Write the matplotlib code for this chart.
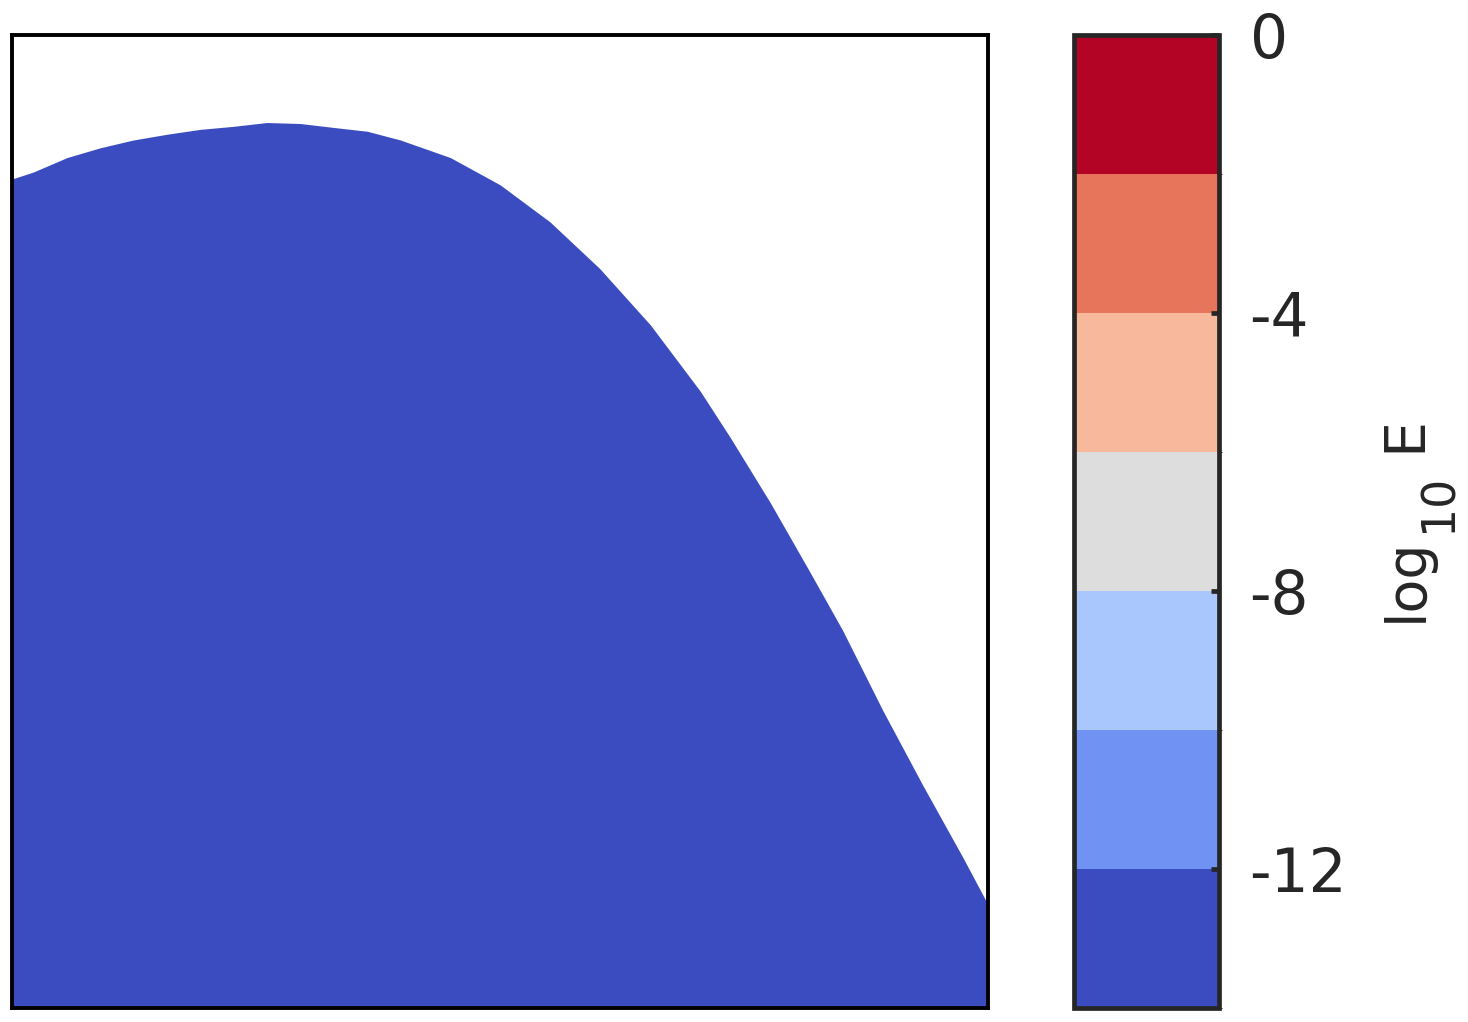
import numpy as np
import matplotlib
matplotlib.use("Agg")
import matplotlib.pyplot as plt
from matplotlib.colors import BoundaryNorm
from matplotlib.cm import ScalarMappable

# --- Data ---
# upper edge of the computed region, in normalised axis units
EDGE_X = [0.000, 0.0215, 0.0564, 0.0902, 0.124, 0.159, 0.193, 0.226, 0.261,
          0.295, 0.329, 0.364, 0.398, 0.449, 0.500, 0.551, 0.602, 0.654,
          0.705, 0.736, 0.777, 0.818, 0.851, 0.892, 0.933, 0.974, 1.000]
EDGE_Y = [0.852, 0.859, 0.874, 0.884, 0.892, 0.898, 0.903, 0.906, 0.910,
          0.909, 0.905, 0.901, 0.892, 0.874, 0.846, 0.808, 0.760, 0.702,
          0.634, 0.586, 0.519, 0.447, 0.388, 0.306, 0.229, 0.155, 0.106]
# log10 E inside the region (all in the lowest colour band)
FIELD_LEVEL = -13.0

LEVELS = [-14, -12, -10, -8, -6, -4, -2, 0]
CBAR_TICKS = [-12, -8, -4, 0]
LABEL_PARTS = ["log", "10", "E"]

TEXT_COLOR = "#262626"

# --- Figure ---
fig = plt.figure(figsize=(14.68, 10.22), dpi=100)
ax = fig.add_axes([0.0082, 0.0137, 0.6649, 0.9521])
cax = fig.add_axes([0.7316, 0.0137, 0.0988, 0.9521])

cmap = plt.get_cmap("coolwarm", len(LEVELS) - 1)
norm = BoundaryNorm(LEVELS, cmap.N)

ax.fill_between(EDGE_X, 0, EDGE_Y, color=cmap(norm(FIELD_LEVEL)),
                linewidth=0, zorder=1)
ax.set_xlim(0, 1)
ax.set_ylim(0, 1)
ax.set_xticks([])
ax.set_yticks([])
for sp in ax.spines.values():
    sp.set_color("black")
    sp.set_linewidth(2.8)
    sp.set_zorder(3)

# colorbar
sm = ScalarMappable(norm=norm, cmap=cmap)
cb = fig.colorbar(sm, cax=cax, ticks=CBAR_TICKS, spacing="proportional")
cb.outline.set_edgecolor(TEXT_COLOR)
cb.outline.set_linewidth(3.4)
cax.tick_params(direction="in", length=6, width=3.4, colors=TEXT_COLOR,
                labelsize=43, pad=22)
cax.set_yticklabels([str(t) for t in CBAR_TICKS])

# colorbar label "log_10 E", subscript drawn a bit larger than mathtext does
lab_kw = dict(transform=cax.transAxes, rotation=90, rotation_mode="anchor",
              ha="left", va="baseline", color=TEXT_COLOR, clip_on=False)
cax.text(2.395, 0.397, LABEL_PARTS[0], fontsize=40, **lab_kw)
cax.text(2.600, 0.489, LABEL_PARTS[1], fontsize=33, **lab_kw)
cax.text(2.395, 0.571, LABEL_PARTS[2], fontsize=41, **lab_kw)

fig.savefig("out.png", dpi=100)
